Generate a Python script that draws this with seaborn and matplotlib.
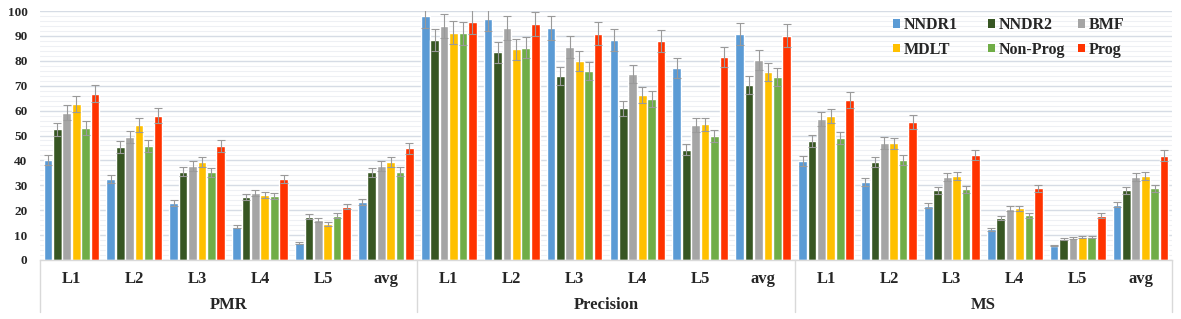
import numpy as np
import pandas as pd
import matplotlib
matplotlib.use("Agg")
import matplotlib.pyplot as plt
import seaborn as sns

groups = ["PMR", "Precision", "MS"]
levels = ["L1", "L2", "L3", "L4", "L5", "avg"]
methods = ["NNDR1", "NNDR2", "BMF", "MDLT", "Non-Prog", "Prog"]
colors = ["#5B9BD5", "#375623", "#A5A5A5", "#FFC000", "#70AD47", "#FF3300"]

nndr1 = [40.3, 32.6, 23.0, 13.4, 6.9, 23.3, 98.0, 96.8, 93.2, 88.4, 77.1, 90.8, 39.8, 31.3, 21.8, 12.3, 5.8, 22.2]
nndr2 = [52.6, 45.3, 35.4, 25.3, 17.4, 35.2, 88.4, 83.5, 73.9, 60.9, 44.3, 70.3, 47.8, 39.2, 28.0, 16.8, 8.5, 28.0]
bmf = [59.1, 49.5, 37.8, 26.9, 16.1, 37.8, 94.0, 93.2, 85.5, 74.7, 54.2, 80.3, 56.6, 47.0, 33.3, 20.5, 8.9, 33.3]
mdlt = [62.7, 54.3, 39.5, 26.1, 14.4, 39.4, 91.3, 84.7, 79.9, 66.3, 54.5, 75.5, 57.8, 46.8, 33.7, 20.8, 9.3, 33.8]
nonprog = [53.0, 45.8, 35.3, 25.8, 17.8, 35.4, 91.0, 85.3, 75.9, 64.7, 49.8, 73.4, 48.9, 40.2, 28.5, 17.9, 9.2, 28.9]
prog = [66.8, 58.0, 45.8, 32.5, 21.4, 44.9, 95.7, 94.8, 90.9, 87.8, 81.5, 90.1, 64.4, 55.3, 42.2, 28.9, 17.8, 41.9]

err_nndr1 = [2.0, 1.6, 1.2, 0.7, 0.3, 1.2, 4.9, 4.8, 4.7, 4.4, 3.9, 4.5, 2.0, 1.6, 1.1, 0.6, 0.3, 1.1]
err_nndr2 = [2.6, 2.3, 1.8, 1.3, 0.9, 1.8, 4.4, 4.2, 3.7, 3.0, 2.2, 3.5, 2.4, 2.0, 1.4, 0.8, 0.4, 1.4]
err_bmf = [3.0, 2.5, 1.9, 1.3, 0.8, 1.9, 4.7, 4.7, 4.3, 3.7, 2.7, 4.0, 2.8, 2.4, 1.7, 1.0, 0.4, 1.7]
err_mdlt = [3.1, 2.7, 2.0, 1.3, 0.7, 2.0, 4.6, 4.2, 4.0, 3.3, 2.7, 3.8, 2.9, 2.3, 1.7, 1.0, 0.5, 1.7]
err_nonprog = [2.7, 2.3, 1.8, 1.3, 0.9, 1.8, 4.6, 4.3, 3.8, 3.2, 2.5, 3.7, 2.4, 2.0, 1.4, 0.9, 0.5, 1.4]
err_prog = [3.3, 2.9, 2.3, 1.6, 1.1, 2.2, 4.8, 4.7, 4.5, 4.4, 4.1, 4.5, 3.2, 2.8, 2.1, 1.4, 0.9, 2.1]

values = [nndr1, nndr2, bmf, mdlt, nonprog, prog]
errors = [err_nndr1, err_nndr2, err_bmf, err_mdlt, err_nonprog, err_prog]

keys = [f"{g}|{l}" for g in groups for l in levels]
rows = []
for m, vals in zip(methods, values):
    for k, v in zip(keys, vals):
        rows.append({"key": k, "method": m, "value": v})
df = pd.DataFrame(rows)

sns.set_style("white")
plt.rcParams["font.family"] = ["Liberation Serif", "DejaVu Serif"]
plt.rcParams["font.weight"] = "bold"

fig = plt.figure(figsize=(11.81, 3.19), dpi=100)
ax = fig.add_axes([40 / 1181, 1 - 260 / 319, (1172 - 40) / 1181, (260 - 11) / 319])

sns.barplot(data=df, x="key", y="value", hue="method", order=keys, hue_order=methods,
            palette=colors, width=0.9, gap=0.08, errorbar=None, ax=ax, legend=False,
            saturation=1, zorder=2)

for cont, errs in zip(ax.containers, errors):
    xs = [p.get_x() + p.get_width() / 2 for p in cont.patches]
    hs = [p.get_height() for p in cont.patches]
    ax.errorbar(xs, hs, yerr=errs, fmt="none", ecolor="#9A9A9A", elinewidth=0.8,
                capsize=2.6, capthick=0.8, zorder=3)

ax.set_xlim(-0.5, len(keys) - 0.5)
ax.set_ylim(0, 100)
ax.set_yticks(np.arange(0, 101, 10))
ax.set_yticks(np.arange(0, 101, 2), minor=True)
ax.grid(axis="y", which="major", color="#D6DCE5", lw=1.0, zorder=0)
ax.grid(axis="y", which="minor", color="#EEF0F4", lw=0.8, zorder=0)
ax.grid(axis="x", visible=False)
ax.set_axisbelow(True)
ax.tick_params(axis="y", which="both", length=0, pad=9, labelsize=9.5)
ax.tick_params(axis="x", length=0, pad=8, labelsize=12)
ax.set_xticks(range(len(keys)))
ax.set_xticklabels([k.split("|")[1] for k in keys], fontweight="bold")
for lab in ax.get_yticklabels():
    lab.set_fontweight("bold")
ax.set_xlabel("")
ax.set_ylabel("")
for s in ["left", "right", "top"]:
    ax.spines[s].set_visible(False)
ax.spines["bottom"].set_color("#D9D9D9")
ax.spines["bottom"].set_linewidth(1.0)

trans = matplotlib.transforms.blended_transform_factory(ax.transData, ax.transAxes)
ybot = -(312 - 260) / 249
for xb in [-0.5, 5.5, 11.5, 17.5]:
    ax.plot([xb, xb], [0, ybot], transform=trans, color="#D9D9D9", lw=1.0, clip_on=False)
for gi, g in enumerate(groups):
    ax.text(gi * 6 + 2.5, -(305 - 260) / 249, g, transform=trans, ha="center", va="center",
            fontsize=12, fontweight="bold")

from matplotlib.patches import Patch
handles = [Patch(facecolor=c, edgecolor="none") for c in colors]
col_x = [893, 988, 1078]
for j in range(3):
    leg = fig.legend([handles[j], handles[j + 3]], [methods[j], methods[j + 3]],
                     loc="upper left", bbox_to_anchor=(col_x[j] / 1181, 1 - 17 / 319),
                     frameon=False, handlelength=0.45, handleheight=0.45, handletextpad=0.25,
                     labelspacing=0.55, borderpad=0, borderaxespad=0,
                     prop={"family": "Liberation Serif", "weight": "bold", "size": 11.5})

fig.savefig("out.png", dpi=100)
